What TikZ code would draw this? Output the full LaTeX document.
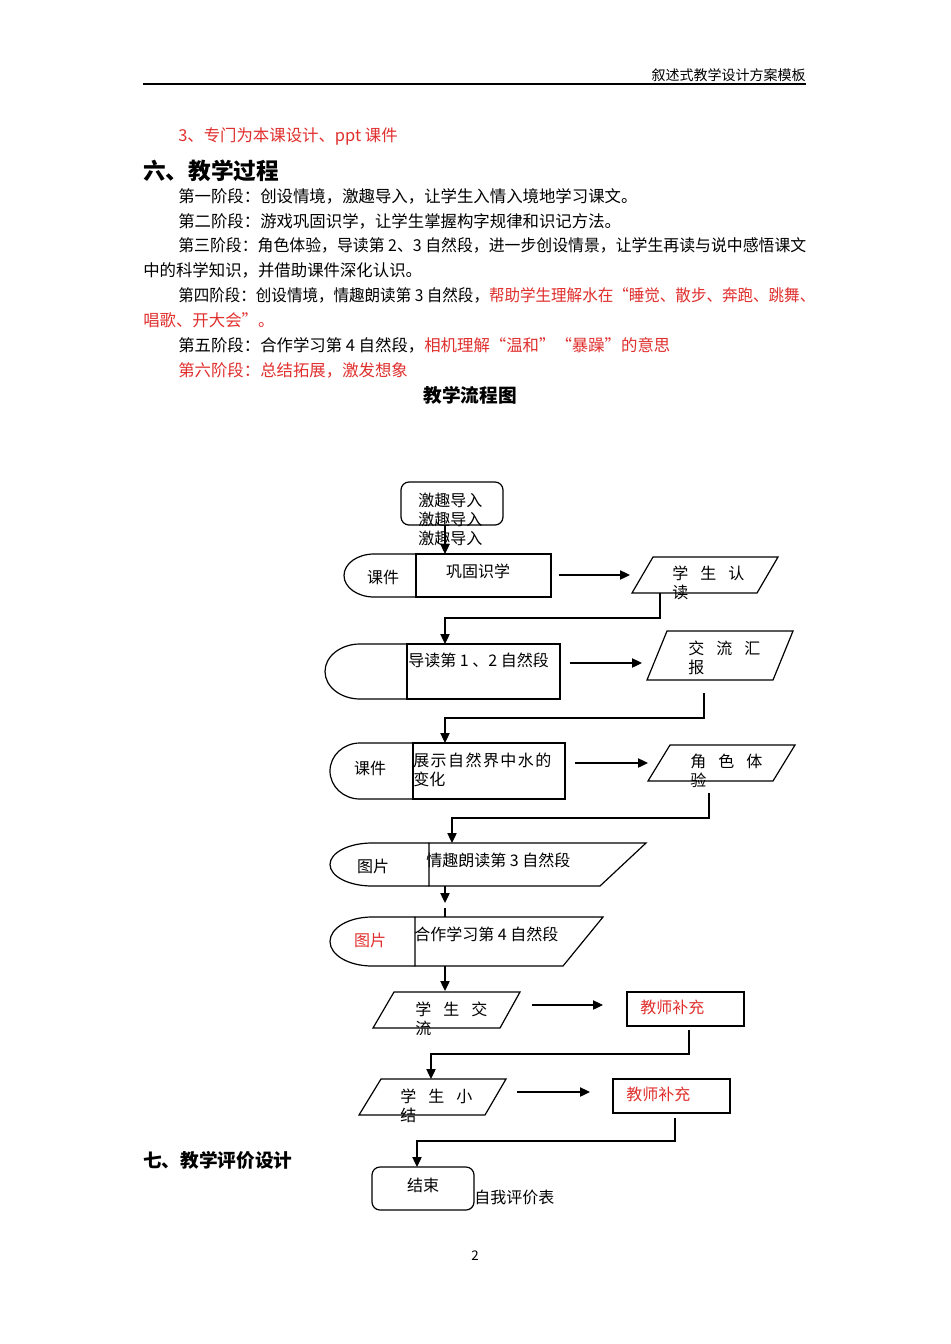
\documentclass[tikz,border=0pt]{standalone}
\usepackage{fontspec}
\usepackage{graphicx}
\setmainfont{Noto Sans CJK SC}
\usetikzlibrary{arrows.meta}
\definecolor{myred}{HTML}{E0302E}
\newcommand{\gp}{\hspace{9pt}}
\begin{document}
\begin{tikzpicture}[x=0.75pt,y=-0.75pt,
  txt/.style={anchor=west,inner sep=0pt,font=\fontsize{12pt}{14pt}\selectfont},
  btxt/.style={anchor=west,inner sep=0pt,font=\fontsize{12.3pt}{14pt}\selectfont},
  ctxt/.style={txt,anchor=center},
  ln/.style={line width=0.9pt,draw=black},
  arr/.style={ln,-{Triangle[length=7.5pt,width=7pt]}},
  hbold/.style={txt,font=\fontsize{14pt}{16pt}\selectfont\bfseries}]
\useasboundingbox[fill=white] (0,0) rectangle (950,1344);

% header
\node[txt,anchor=east,font=\fontsize{10.5pt}{12pt}\selectfont] (hdr) at (806,75) {叙述式教学设计方案模板};
\coordinate (ruleL) at (143,84); \coordinate (ruleR) at (806,84);
\draw[line width=1.2pt] (ruleL) -- (ruleR);

% body text
\node[btxt,text=myred] (l0) at (178,136) {3、专门为本课设计、ppt 课件};
\node[txt,font=\fontsize{17pt}{20pt}\selectfont\bfseries] (h6) at (143,171) {六、教学过程};
\node[btxt] (l1) at (178,196) {第一阶段：创设情境，激趣导入，让学生入情入境地学习课文。};
\node[btxt] (l2) at (178,221) {第二阶段：游戏巩固识学，让学生掌握构字规律和识记方法。};
\node[btxt] (l3) at (178,245) {\resizebox{471pt}{\height}{第三阶段：角色体验，导读第 2、3 自然段，进一步创设情景，让学生再读与说中感悟课文}};
\node[btxt] (l3b) at (143,270) {中的科学知识，并借助课件深化认识。};
\node[btxt] (l4) at (178,295) {\resizebox{477.75pt}{\height}{第四阶段：创设情境，情趣朗读第 3 自然段，\textcolor{myred}{帮助学生理解水在“睡觉、散步、奔跑、跳舞、}}};
\node[btxt,text=myred] (l4b) at (143,320) {唱歌、开大会”。};
\node[btxt] (l5) at (178,345) {第五阶段：合作学习第 4 自然段，\textcolor{myred}{相机理解“温和”“暴躁”的意思}};
\node[btxt,text=myred] (l6) at (178,370) {第六阶段：总结拓展，激发想象};
\node[hbold,anchor=center] (title) at (470,395) {教学流程图};

% start box
\node[ln,rounded corners=6pt,minimum width=76.5pt,minimum height=32.25pt,inner sep=0pt] (start) at (452,503.5) {};
\node[txt] (s1) at (418,500) {激趣导入};
\node[txt] (s2) at (418,519) {激趣导入};
\node[txt] (s3) at (418,538) {激趣导入};
\coordinate (startB) at (445,525); \coordinate (r1T) at (445,554);
\draw[arr] (startB) -- (r1T);

% row 1
\draw[ln] (416,554) -- (374,554) arc[start angle=90,end angle=270,x radius=22.5pt,y radius=16.125pt] -- (416,597);
\draw[ln] (416,554) rectangle (551,597);
\node[ctxt] (t1a) at (383,577) {课件};
\node[ctxt] (t1b) at (478,571) {巩固识学};
\coordinate (a1s) at (559,575); \coordinate (a1e) at (630,575);
\draw[arr] (a1s) -- (a1e);
\draw[ln] (653,557) -- (778,557) -- (757,593) -- (632,593) -- cycle;
\node[txt] (p1a) at (672,573) {学\gp 生\gp 认};
\node[txt] (p1b) at (672,592) {读};
\coordinate (c1a) at (660,593); \coordinate (r2T) at (445,644);
\draw[arr] (c1a) |- (445,618) -- (r2T);

% row 2
\draw[ln] (407,644) -- (360,644) arc[start angle=90,end angle=270,x radius=26.25pt,y radius=20.625pt] -- (407,699);
\draw[ln] (407,644) rectangle (560,699);
\node[txt] (t2b) at (408,660) {导读第 1 、2 自然段};
\coordinate (a2s) at (570,663); \coordinate (a2e) at (642,663);
\draw[arr] (a2s) -- (a2e);
\draw[ln] (667,631) -- (793,631) -- (773,680) -- (647,680) -- cycle;
\node[txt] (p2a) at (688,648) {交\gp 流\gp 汇};
\node[txt] (p2b) at (688,667) {报};
\coordinate (c2a) at (704,693); \coordinate (r3T) at (445,743);
\draw[arr] (c2a) |- (445,718) -- (r3T);

% row 3
\draw[ln] (413,743) -- (360,743) arc[start angle=90,end angle=270,x radius=22.5pt,y radius=21pt] -- (413,799);
\draw[ln] (413,743) rectangle (565,799);
\node[ctxt] (t3a) at (370,768) {课件};
\node[txt,font=\fontsize{12pt}{14pt}\selectfont\addfontfeatures{LetterSpace=9}] (t3b) at (413,760) {展示自然界中水的};
\node[txt] (t3c) at (413,779) {变化};
\coordinate (a3s) at (575,763); \coordinate (a3e) at (648,763);
\draw[arr] (a3s) -- (a3e);
\draw[ln] (670,745) -- (795,745) -- (773,781) -- (648,781) -- cycle;
\node[txt] (p3a) at (690,761) {角\gp 色\gp 体};
\node[txt] (p3b) at (690,780) {验};
\coordinate (c3a) at (709,793); \coordinate (r4T) at (452,843);
\draw[arr] (c3a) |- (452,818) -- (r4T);

% row 4
\draw[ln] (429,843) -- (372,843) arc[start angle=90,end angle=270,x radius=31.5pt,y radius=16.125pt] -- (429,886);
\draw[ln] (429,843) -- (646,843) -- (600,886) -- (429,886) -- cycle;
\node[ctxt] (t4a) at (373,866) {图片};
\node[txt] (t4b) at (426,860) {情趣朗读第 3 自然段};
\coordinate (r4B) at (445,886); \coordinate (g4) at (445,903);
\draw[arr] (r4B) -- (g4);
\coordinate (g4b) at (445,908); \coordinate (r5T) at (445,917);
\draw[ln] (g4b) -- (r5T);

% row 5
\draw[ln] (415,917) -- (372,917) arc[start angle=90,end angle=270,x radius=31.5pt,y radius=18.375pt] -- (415,966);
\draw[ln] (415,917) -- (603,917) -- (563,966) -- (415,966) -- cycle;
\node[ctxt,text=myred] (t5a) at (370,940) {图片};
\node[txt] (t5b) at (414,934) {合作学习第 4 自然段};
\coordinate (r5B) at (445,966); \coordinate (p7T) at (445,991);
\draw[arr] (r5B) -- (p7T);

% row 7
\draw[ln] (394,992) -- (520,992) -- (500,1028) -- (373,1028) -- cycle;
\node[txt] (p7a) at (415,1009) {学\gp 生\gp 交};
\node[txt] (p7b) at (415,1028) {流};
\coordinate (a7s) at (532,1005); \coordinate (a7e) at (603,1005);
\draw[arr] (a7s) -- (a7e);
\draw[ln] (627,992) rectangle (744,1026);
\node[txt,text=myred] (b7) at (640,1007) {教师补充};
\coordinate (c6a) at (689,1030); \coordinate (p8T) at (431,1079);
\draw[arr] (c6a) |- (431,1054) -- (p8T);

% row 8
\draw[ln] (381,1079) -- (506,1079) -- (485,1115) -- (359,1115) -- cycle;
\node[txt] (p8a) at (400,1096) {学\gp 生\gp 小};
\node[txt] (p8b) at (400,1115) {结};
\coordinate (a8s) at (517,1092); \coordinate (a8e) at (590,1092);
\draw[arr] (a8s) -- (a8e);
\draw[ln] (613,1079) rectangle (730,1113);
\node[txt,text=myred] (b8) at (626,1094) {教师补充};
\coordinate (c7a) at (675,1118); \coordinate (endT) at (417,1167);
\draw[arr] (c7a) |- (417,1141) -- (endT);

% end
\node[ln,rounded corners=6pt,minimum width=76.5pt,minimum height=32.25pt,inner sep=0pt] (end) at (423,1188.5) {};
\node[ctxt] (endt) at (423,1185) {结束};
\node[txt] (self) at (474,1197) {自我评价表};
\node[hbold] (h7) at (143,1160) {七、教学评价设计};
\node[ctxt,font=\fontsize{10pt}{12pt}\selectfont] (pg) at (475,1256) {2};
\end{tikzpicture}
\end{document}
